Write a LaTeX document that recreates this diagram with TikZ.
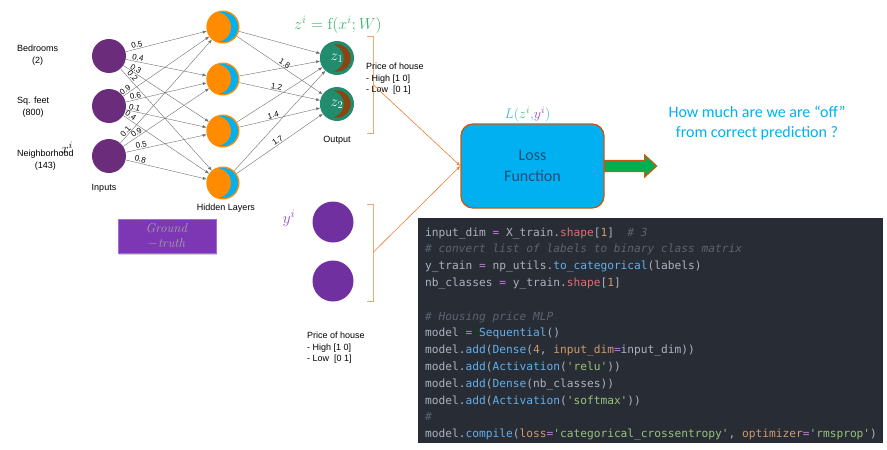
\documentclass[tikz,border=0pt]{standalone}
\usepackage{fix-cm}
\usepackage{amsmath,amssymb}
\usepackage[no-math]{fontspec}
\setmainfont{Liberation Sans}
\setmonofont{DejaVu Sans Mono}
\newfontfamily\calib{Carlito}
\usepackage{tikz}
\usepackage{xcolor}
\usetikzlibrary{arrows.meta,positioning,shadows}

% network colours
\definecolor{inpurple}{HTML}{6B2C7C}
\definecolor{gtpurple}{HTML}{7030A0}
\definecolor{hidorange}{HTML}{FF8C00}
\definecolor{hidcyan}{HTML}{00B0F0}
\definecolor{outteal}{HTML}{218C6E}
\definecolor{outbrown}{HTML}{8B4513}
\definecolor{wiregrey}{HTML}{6E6E6E}
\definecolor{eqgreen}{HTML}{3CB371}
\definecolor{ypurple}{HTML}{8C50C8}
\definecolor{brkorange}{HTML}{F4A872}
\definecolor{lnorange}{HTML}{ED7D31}
\definecolor{gtfill}{HTML}{7D37B4}
\definecolor{gtedge}{HTML}{A06CD5}
\definecolor{gttext}{HTML}{A3A3A3}
% loss colours
\definecolor{losscyan}{HTML}{00B0F0}
\definecolor{lossedge}{HTML}{C55A11}
\definecolor{lossfont}{HTML}{1F4E79}
\definecolor{losslbl}{HTML}{3DB5E8}
\definecolor{arrgreen}{HTML}{00B050}
% code colours
\definecolor{codebg}{HTML}{282C34}
\definecolor{codefg}{HTML}{ABB2BF}
\definecolor{cpurple}{HTML}{C678DD}
\definecolor{cred}{HTML}{E06C75}
\definecolor{corange}{HTML}{D19A66}
\definecolor{cgrey}{HTML}{5C6370}
\definecolor{cblue}{HTML}{61AFEF}
\definecolor{cgreen}{HTML}{98C379}

\newcommand{\opc}[1]{\textcolor{cpurple}{#1}}
\newcommand{\fnc}[1]{\textcolor{cblue}{#1}}
\newcommand{\numc}[1]{\textcolor{corange}{#1}}
\newcommand{\strc}[1]{\textcolor{cgreen}{#1}}
\newcommand{\attc}[1]{\textcolor{cred}{#1}}
\newcommand{\cmc}[1]{\textcolor{cgrey}{\itshape #1}}

\begin{document}
\begin{tikzpicture}[x=1pt,y=-1pt,
  inp/.style={circle, fill=inpurple, minimum size=34pt, inner sep=0pt},
  gtn/.style={circle, fill=gtpurple, minimum size=41pt, inner sep=0pt},
  hid/.style={circle, fill=hidorange, minimum size=33pt, inner sep=0pt,
    path picture={
      \fill[hidcyan] (path picture bounding box.center) circle[radius=15pt];
      \fill[hidorange] ([xshift=-7pt]path picture bounding box.center) circle[radius=15pt];
    }},
  outn/.style={circle, fill=outteal, minimum size=34pt, inner sep=0pt, text=white,
    font=\fontsize{15}{15}\selectfont,
    path picture={
      \fill[outbrown] (path picture bounding box.center) circle[radius=13.7pt];
      \fill[outteal] ([xshift=-7pt]path picture bounding box.center) circle[radius=13.7pt];
    }},
  lbl/.style={font=\fontsize{9}{11.5}\selectfont, inner sep=0pt},
  wt/.style={font=\fontsize{8}{8}\selectfont, sloped, above, inner sep=1pt},
  wire/.style={draw=wiregrey, line width=0.4pt, -{Latex[length=4pt,width=3pt]}},
  brk/.style={draw=brkorange, line width=0.8pt},
  feed/.style={draw=lnorange, line width=0.6pt, -{Latex[length=4pt,width=3pt]}},
  gtbox/.style={rectangle, fill=gtfill, draw=gtedge, line width=0.8pt,
    minimum width=98pt, minimum height=34pt, align=center, text=gttext,
    font=\fontsize{13}{15}\selectfont,
    drop shadow={opacity=0.35, shadow xshift=1pt, shadow yshift=-1.5pt}},
  lossbox/.style={rectangle, rounded corners=12pt, fill=losscyan, draw=lossedge,
    line width=1.3pt, minimum width=143pt, minimum height=84pt, align=center,
    text=lossfont, font=\calib\fontsize{16}{21}\selectfont},
  codebox/.style={rectangle, fill=codebg, minimum width=465pt, minimum height=225pt, inner sep=0pt},
  codeln/.style={anchor=base west, inner sep=0pt, text=codefg, font=\ttfamily\fontsize{11.2}{14}\selectfont}]
  \useasboundingbox (0,0) rectangle (887,450);

  % inputs
  \node[inp] (in1) at (109,56) {};
  \node[inp] (in2) at (109,106) {};
  \node[inp] (in3) at (109,156) {};
  \node[lbl, anchor=west, align=center] (bed) at (17,55) {Bedrooms\\(2)};
  \node[lbl, anchor=west, align=center] (sqf) at (17,107) {Sq. feet\\(800)};
  \node[lbl, anchor=west, align=center] (nbh) at (17,160) {Neighborhood\\(143)};
  \node[font=\fontsize{14}{14}\selectfont, inner sep=0pt] (xi) at (67,148) {$x^{i}$};
  \node[lbl] (inlbl) at (104,188) {Inputs};

  % hidden layer
  \foreach \i/\y in {1/27, 2/79, 3/131, 4/183}
    \node[hid] (h\i) at (223,\y) {};
  \node[lbl] (hidlbl) at (226,208) {Hidden Layers};

  % output layer
  \node[outn] (z1) at (337,58) {$z_1$};
  \node[outn] (z2) at (337,104) {$z_2$};
  \node[lbl] (outlbl) at (337,140) {Output};
  \node[text=eqgreen, font=\fontsize{16}{16}\selectfont, inner sep=0pt] (eq) at (338,25)
    {$z^{i} = \mathrm{f}(x^{i};W)$};

  % input -> hidden, weight at pos
  \foreach \s/\t/\w/\p in {1/1/0.5/0.15, 1/2/0.4/0.14, 1/3/0.3/0.12, 1/4/0.2/0.10,
      2/1/0.9/0.05, 2/2/0.6/0.13, 2/3/0.1/0.10, 2/4/0.4/0.06,
      3/1/0.1/0.09, 3/2/0.9/0.18, 3/3/0.5/0.20, 3/4/0.8/0.17}
    \draw[wire] (in\s) -- node[wt, pos=\p] {\w} (h\t);

  % hidden -> output
  \foreach \t in {1,...,4}
    \draw[wire] (h\t) -- (z1);
  \foreach \t/\w/\p in {1/1.8/0.53, 2/1.2/0.45, 3/1.4/0.43, 4/1.7/0.5}
    \draw[wire] (h\t) -- node[wt, pos=\p] {\w} (z2);

  % prediction bracket
  \draw[brk] (367,36) -- (373,36) -- (373,133) -- (367,133);
  \coordinate (brk1) at (373,84.5);
  \node[lbl, anchor=west, align=left] (price1) at (366,79)
    {Price of house\\- High [1 0]\\- Low\ \ [0 1]};

  % ground truth
  \node[gtn] (y1) at (333,222) {};
  \node[gtn] (y2) at (333,281) {};
  \node[text=ypurple, font=\fontsize{16}{16}\selectfont, inner sep=0pt] (yi) at (289,218) {$y^{i}$};
  \node[gtbox] (gt) at (167,236) {$\mathit{Ground}$\\$-\mathit{truth}$};
  \draw[brk] (367,204) -- (373,204) -- (373,301) -- (367,301);
  \coordinate (brk2) at (373,252.5);
  \node[lbl, anchor=west, align=left] (price2) at (307,348)
    {Price of house\\- High [1 0]\\- Low\ \ [0 1]};

  % loss
  \node[lossbox] (loss) at (532.5,166) {Loss\\Function};
  \node[above=0pt of loss, xshift=-5pt, inner sep=1pt, font=\fontsize{14}{14}\selectfont] (losslab)
    {$\textcolor{losslbl}{L(}\textcolor{eqgreen}{z^{i}}\textcolor{losslbl}{,}\textcolor{ypurple}{y^{i}}\textcolor{losslbl}{)}$};
  \draw[feed] (brk1) -- (loss.west);
  \draw[feed] (brk2) -- (loss.west);
  \filldraw[fill=arrgreen, draw=lossedge, line width=1.2pt]
    ([yshift=5.5pt]loss.east) -- ++(40,0) -- ++(0,-5.5) -- ++(12,11) -- ++(-12,11)
    -- ++(0,-5.5) -- ++(-40,0) -- cycle;
  \node[align=center, text=losscyan, font=\calib\fontsize{16}{20}\selectfont] (offq) at (757,123)
    {How much are we are “off”\\from correct prediction ?};

  % code listing
  \node[codebox] (code) at (650.5,330.5) {};
  \node[codeln] (c1) at (425,236) {input\_dim \opc{=} X\_train.\attc{shape}[\numc{1}]\ \ \cmc{\# 3}};
  \node[codeln] (c2) at (425,252.8) {\cmc{\# convert list of labels to binary class matrix}};
  \node[codeln] (c3) at (425,269.6) {y\_train \opc{=} np\_utils.\fnc{to\_categorical}(labels)};
  \node[codeln] (c4) at (425,286.4) {nb\_classes \opc{=} y\_train.\attc{shape}[\numc{1}]};
  \node[codeln] (c6) at (425,320) {\cmc{\# Housing price MLP}};
  \node[codeln] (c7) at (425,336.8) {model \opc{=} \fnc{Sequential}()};
  \node[codeln] (c8) at (425,353.6) {model.\fnc{add}(\fnc{Dense}(\numc{4}, \numc{input\_dim}\opc{=}input\_dim))};
  \node[codeln] (c9) at (425,370.4) {model.\fnc{add}(\fnc{Activation}(\strc{'relu'}))};
  \node[codeln] (c10) at (425,387.2) {model.\fnc{add}(\fnc{Dense}(nb\_classes))};
  \node[codeln] (c11) at (425,404) {model.\fnc{add}(\fnc{Activation}(\strc{'softmax'}))};
  \node[codeln] (c12) at (425,420.8) {\cmc{\#}};
  \node[codeln] (c13) at (425,437.6) {model.\fnc{compile}(\numc{loss}\opc{=}\strc{'categorical\_crossentropy'}, \numc{optimizer}\opc{=}\strc{'rmsprop'})};
\end{tikzpicture}
\end{document}
